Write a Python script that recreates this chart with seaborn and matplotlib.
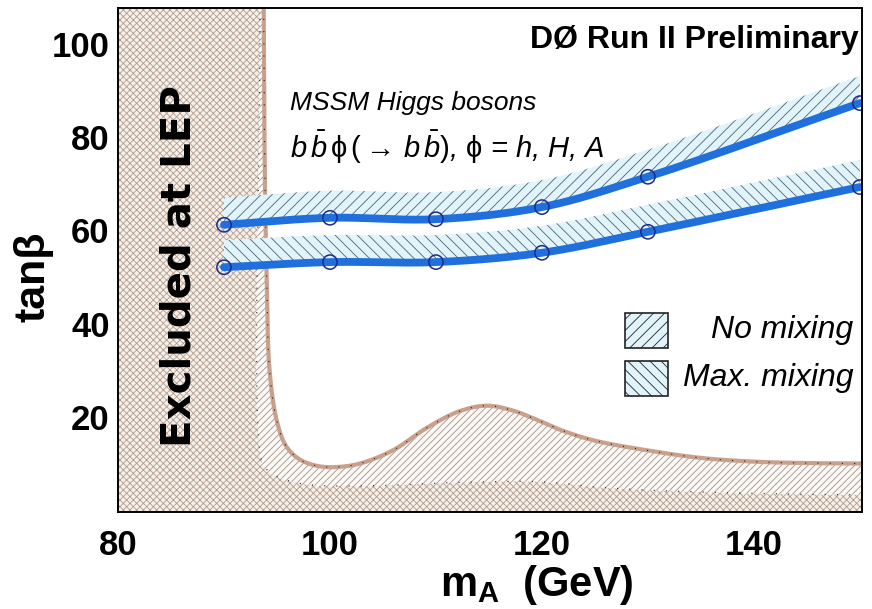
import numpy as np
import pandas as pd
import matplotlib
matplotlib.use("Agg")
import matplotlib.pyplot as plt
from matplotlib.patches import Rectangle
from matplotlib.ticker import MultipleLocator
import seaborn as sns

# --- limit data -------------------------------------------------------------
mass_points = [90, 100, 110, 120, 130, 150]
tanb_no_mixing = [61.2, 62.7, 62.4, 65.0, 71.5, 87.3]
tanb_max_mixing = [52.1, 53.2, 53.2, 55.2, 59.7, 69.3]
band_width = 5.8  # hatched side of each limit curve (tanb units)

# LEP excluded region: outer contour and inner (crosshatched) contour
lep_mass = [93.75, 93.8, 93.9, 94.05, 94.3, 95.0, 95.9, 97.2, 99.0, 101.0,
            103.0, 106.0, 109.1, 112.2, 114.8, 117.2, 119.5, 122.0, 125.0,
            130.0, 135.0, 140.0, 145.0, 150.3]
lep_tanb = [108, 85, 65, 48, 30, 19, 13.6, 10.8, 9.4, 9.3, 10.1, 12.9, 17.6,
            21.2, 22.4, 21.4, 19.4, 17.0, 14.9, 12.8, 11.2, 10.4, 10.1, 10.0]
lep_inner_mass = [93.4, 93.5, 94.0, 95.3, 96.8, 98.2, 100, 105, 110, 115,
                  118, 121.7, 125, 130, 135, 140, 145, 150.3]
lep_inner_tanb = [108, 11, 8.8, 6.9, 5.9, 5.4, 5.2, 5.3, 5.8, 6.1, 6.2, 5.8,
                  5.0, 4.3, 3.9, 3.6, 3.4, 3.3]

x_ticks = [80, 100, 120, 140]
y_ticks = [20, 40, 60, 80, 100]

XLIM = (80, 150.2)
YLIM = (-0.4, 107.7)

sns.set_theme(style="ticks")
plt.rcParams["font.family"] = ["Liberation Sans", "DejaVu Sans"]
plt.rcParams["text.color"] = "black"
plt.rcParams["axes.labelcolor"] = "black"
plt.rcParams["xtick.color"] = "black"
plt.rcParams["ytick.color"] = "black"
plt.rcParams["mathtext.fontset"] = "custom"
plt.rcParams["mathtext.rm"] = "Liberation Sans"
plt.rcParams["mathtext.it"] = "Liberation Sans:italic"
plt.rcParams["mathtext.bf"] = "Liberation Sans:bold"
plt.rcParams["mathtext.fallback"] = "stixsans"
plt.rcParams["hatch.linewidth"] = 0.6


def smooth(xs, ys, n=30, sx=10.6, sy=4.66):
    """Centripetal Catmull-Rom curve through the given nodes (screen-scaled)."""
    P = np.column_stack([np.asarray(xs, float) * sx, np.asarray(ys, float) * sy])
    P = np.vstack([2 * P[0] - P[1], P, 2 * P[-1] - P[-2]])
    out = []
    for i in range(1, len(P) - 2):
        p0, p1, p2, p3 = P[i - 1], P[i], P[i + 1], P[i + 2]
        t0 = 0.0
        t1 = t0 + np.linalg.norm(p1 - p0) ** 0.5
        t2 = t1 + np.linalg.norm(p2 - p1) ** 0.5
        t3 = t2 + np.linalg.norm(p3 - p2) ** 0.5
        t = np.linspace(t1, t2, n, endpoint=False)[:, None]
        A1 = (t1 - t) / (t1 - t0) * p0 + (t - t0) / (t1 - t0) * p1
        A2 = (t2 - t) / (t2 - t1) * p1 + (t - t1) / (t2 - t1) * p2
        A3 = (t3 - t) / (t3 - t2) * p2 + (t - t2) / (t3 - t2) * p3
        B1 = (t2 - t) / (t2 - t0) * A1 + (t - t0) / (t2 - t0) * A2
        B2 = (t3 - t) / (t3 - t1) * A2 + (t - t1) / (t3 - t1) * A3
        out.append((t2 - t) / (t2 - t1) * B1 + (t - t1) / (t2 - t1) * B2)
    out.append(P[-2][None, :])
    pts = np.vstack(out)
    return pts[:, 0] / sx, pts[:, 1] / sy


fig = plt.figure(figsize=(8.72, 6.09), dpi=100)
ax = fig.add_axes([118 / 872, 1 - 512 / 609, 744 / 872, 504 / 609])
ax.set_facecolor("white")

# LEP excluded region
lx, ly = smooth(lep_mass, lep_tanb)
ix, iy = smooth(lep_inner_mass, lep_inner_tanb)
cross_x = np.concatenate([[XLIM[0], XLIM[0]], ix, [ix[-1]]])
cross_y = np.concatenate([[-5, 110], iy, [-5]])
ax.fill(cross_x, cross_y, facecolor="#f6f0ea", edgecolor="#b29c8e",
        hatch="xxxxx", linewidth=0, zorder=1)
diag_x = np.concatenate([lx, ix[::-1]])
diag_y = np.concatenate([ly, iy[::-1]])
ax.fill(diag_x, diag_y, facecolor="#fbf8f5", edgecolor="#a0948c",
        hatch="/////", linewidth=0, zorder=1)
ax.plot(lx, ly, color="#c8a08c", lw=3.0, zorder=2, solid_capstyle="butt")
ax.plot(lx, ly, color="#222222", lw=0.8, ls=(0, (1, 10)), zorder=2)
ax.plot(ix, iy, color="#222222", lw=0.8, ls=(0, (1, 10)), zorder=2)

# limit curves with hatched sides
curves = [
    (tanb_no_mixing, "///", "No mixing"),
    (tanb_max_mixing, "\\\\\\", "Max. mixing"),
]
blue = "#1f6fdc"
for values, hatch, _ in curves:
    cx, cy = smooth(mass_points, values)
    ax.fill_between(cx, cy, cy + band_width, facecolor="#e2f4fb",
                    edgecolor="#4c6470", hatch=hatch, linewidth=0, zorder=3)
    ax.plot(cx, cy, color=blue, lw=5.6, zorder=4, solid_capstyle="round")

markers = pd.DataFrame({
    "mA": mass_points * 2,
    "tanb": tanb_no_mixing + tanb_max_mixing,
    "scenario": ["No mixing"] * len(mass_points) + ["Max. mixing"] * len(mass_points),
})
sns.scatterplot(data=markers, x="mA", y="tanb", ax=ax, s=105, marker="o",
                facecolor="none", edgecolor="#1c2a8c", linewidth=1.1,
                zorder=5, legend=False)

# legend boxes
for (values, hatch, label), yb in zip(curves, [0.325, 0.230]):
    ax.add_patch(Rectangle((0.681, yb), 0.058, 0.069, transform=ax.transAxes,
                           facecolor="#e2f4fb", edgecolor="#222222",
                           hatch=hatch, linewidth=1.2, zorder=6))
    ax.text(0.988, yb + 0.036, label, transform=ax.transAxes, ha="right",
            va="center", fontsize=23, style="italic", zorder=6)

# annotations
ax.text(0.995, 0.937, "DØ Run II Preliminary", transform=ax.transAxes,
        ha="right", va="center", fontsize=23, fontweight="bold", zorder=7)
ax.text(0.231, 0.812, "MSSM Higgs bosons", transform=ax.transAxes,
        ha="left", va="center", fontsize=19, style="italic", zorder=7)
ax.text(0.231, 0.724,
        r"$b\,\bar{b}\,\mathrm{\phi}\,(\rightarrow\, b\,\bar{b})$, $\mathrm{\phi}$ = h, H, A",
        transform=ax.transAxes, ha="left", va="center", fontsize=21,
        style="italic", zorder=7)
ax.text(0.083, 0.488, "Excluded at LEP", transform=ax.transAxes, rotation=90,
        ha="center", va="center", fontsize=29, fontweight="bold",
        family=["DejaVu Sans"], zorder=7)

# axes
ax.set_xlim(*XLIM)
ax.set_ylim(*YLIM)
ax.set_xticks(x_ticks)
ax.set_yticks(y_ticks)
ax.xaxis.set_minor_locator(MultipleLocator(5))
ax.yaxis.set_minor_locator(MultipleLocator(5))
ax.tick_params(axis="both", which="both", direction="in", colors="black",
               top=False, right=False)
ax.tick_params(axis="x", which="major", length=11, width=1.2, pad=12,
               labelsize=25)
ax.tick_params(axis="x", which="minor", length=5.5, width=1.0)
ax.tick_params(axis="y", which="major", length=14, width=1.2, pad=6,
               labelsize=25)
ax.tick_params(axis="y", which="minor", length=7, width=1.0)
for lbl in ax.get_xticklabels() + ax.get_yticklabels():
    lbl.set_fontweight("bold")
for sp in ax.spines.values():
    sp.set_linewidth(1.4)
    sp.set_color("black")
    sp.set_zorder(8)

ax.set_xlabel(r"$\mathbf{m}_{\mathbf{A}}$  (GeV)", fontsize=30,
              fontweight="bold", ha="center", va="top")
ax.xaxis.set_label_coords(0.563, -0.102)
ax.set_ylabel("tanβ", fontsize=31, fontweight="bold", ha="center",
              va="center")
ax.yaxis.set_label_coords(-0.114, 0.466)

fig.savefig("out.png", dpi=100)
